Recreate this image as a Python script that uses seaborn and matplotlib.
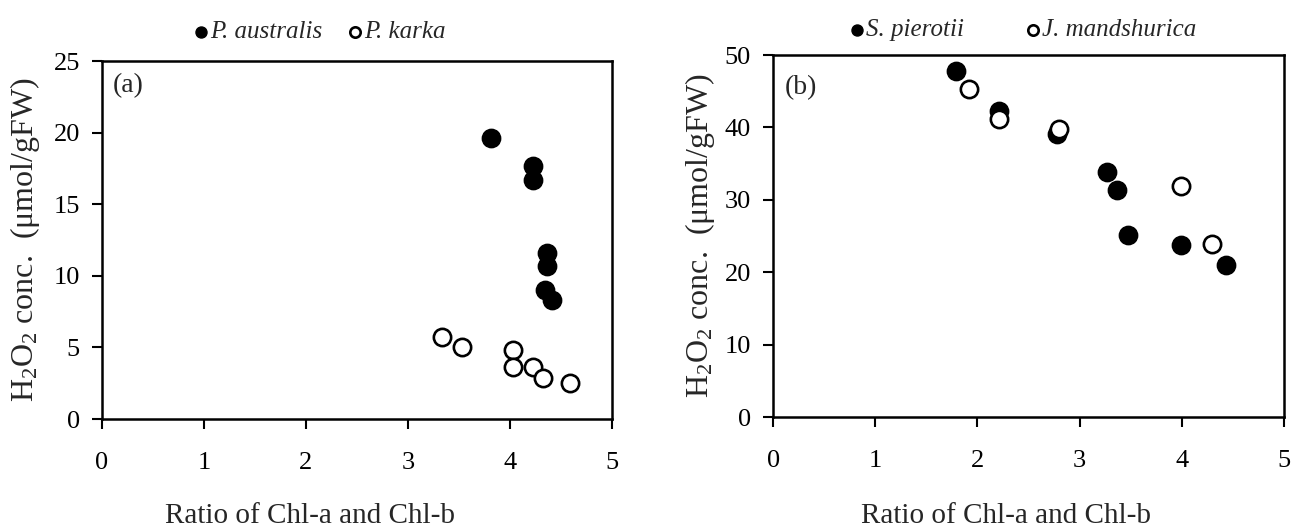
import matplotlib
matplotlib.use("Agg")
import matplotlib.pyplot as plt
import seaborn as sns
import pandas as pd

# ---- data ----
a_filled_x = [3.81, 4.23, 4.23, 4.36, 4.36, 4.34, 4.41]
a_filled_y = [19.6, 17.7, 16.7, 11.6, 10.7, 9.0, 8.3]
a_open_x = [3.33, 3.53, 4.03, 4.03, 4.23, 4.32, 4.59]
a_open_y = [5.75, 5.05, 4.8, 3.6, 3.6, 2.85, 2.5]

b_filled_x = [1.79, 2.21, 2.78, 3.27, 3.37, 3.47, 3.99, 4.43]
b_filled_y = [47.8, 42.3, 39.1, 33.8, 31.3, 25.2, 23.8, 21.0]
b_open_x = [1.92, 2.21, 2.80, 3.99, 4.29]
b_open_y = [45.3, 41.1, 39.8, 31.9, 23.9]

a_labels = ["P. australis", "P. karka"]
b_labels = ["S. pierotii", "J. mandshurica"]
x_ticks = [0, 1, 2, 3, 4, 5]
a_y_ticks = [0, 5, 10, 15, 20, 25]
b_y_ticks = [0, 10, 20, 30, 40, 50]
xlabel = "Ratio of Chl-a and Chl-b"
ylabel = "H$_2$O$_2$ conc.  (\u03bcmol/gFW)"

sns.set_theme(style="ticks")
plt.rcParams["font.family"] = ["Liberation Serif", "DejaVu Serif"]
plt.rcParams["mathtext.default"] = "regular"

fig = plt.figure(figsize=(12.96, 5.29), dpi=100)
ax_a = fig.add_axes([0.0787, 0.2079, 0.3935, 0.6767])
ax_b = fig.add_axes([0.5965, 0.2117, 0.3943, 0.6843])

def panel(ax, fx, fy, ox, oy, labels, yticks, tag, tag_xy, leg_x, leg_y,
          colsp, xl_x, xl_y, yl_x):
    df_f = pd.DataFrame({"x": fx, "y": fy})
    df_o = pd.DataFrame({"x": ox, "y": oy})
    sns.scatterplot(data=df_f, x="x", y="y", ax=ax, s=175, color="black",
                    edgecolor="black", linewidth=1.0, label=labels[0], zorder=3)
    sns.scatterplot(data=df_o, x="x", y="y", ax=ax, s=155, facecolor="white",
                    edgecolor="black", linewidth=1.9, label=labels[1], zorder=4)
    ax.set_xlim(0, 5)
    ax.set_ylim(0, yticks[-1])
    ax.set_xticks(x_ticks)
    ax.set_yticks(yticks)
    ax.set_xticklabels([str(t) for t in x_ticks])
    ax.set_yticklabels([str(t) for t in yticks])
    for sp in ax.spines.values():
        sp.set_visible(True)
        sp.set_linewidth(1.8)
        sp.set_color("black")
    ax.tick_params(axis="x", direction="out", length=7, width=1.5, pad=17,
                   labelsize=19, colors="black")
    ax.tick_params(axis="y", direction="out", length=7, width=1.5, pad=9,
                   labelsize=19, colors="black")
    ax.set_xlabel(xlabel, fontsize=21)
    ax.xaxis.set_label_coords(xl_x, xl_y)
    ax.set_ylabel(ylabel, fontsize=23)
    ax.yaxis.set_label_coords(yl_x, 0.5)
    ax.text(tag_xy[0], tag_xy[1], tag, transform=ax.transAxes, fontsize=20,
            ha="left", va="center")
    leg = ax.legend(loc="center", bbox_to_anchor=(leg_x, leg_y), ncol=2,
                    frameon=False, markerscale=0.6, handletextpad=0.02,
                    handlelength=0.7, columnspacing=colsp,
                    prop={"family": "Liberation Serif", "style": "italic", "size": 18})
    return leg

panel(ax_a, a_filled_x, a_filled_y, a_open_x, a_open_y, a_labels, a_y_ticks,
      "(a)", (0.022, 0.93), 0.425, 1.081, 0.95, 0.408, -0.235, -0.118)
panel(ax_b, b_filled_x, b_filled_y, b_open_x, b_open_y, b_labels, b_y_ticks,
      "(b)", (0.023, 0.909), 0.487, 1.069, 2.4, 0.456, -0.238, -0.11)

fig.savefig("out.png", dpi=100)
